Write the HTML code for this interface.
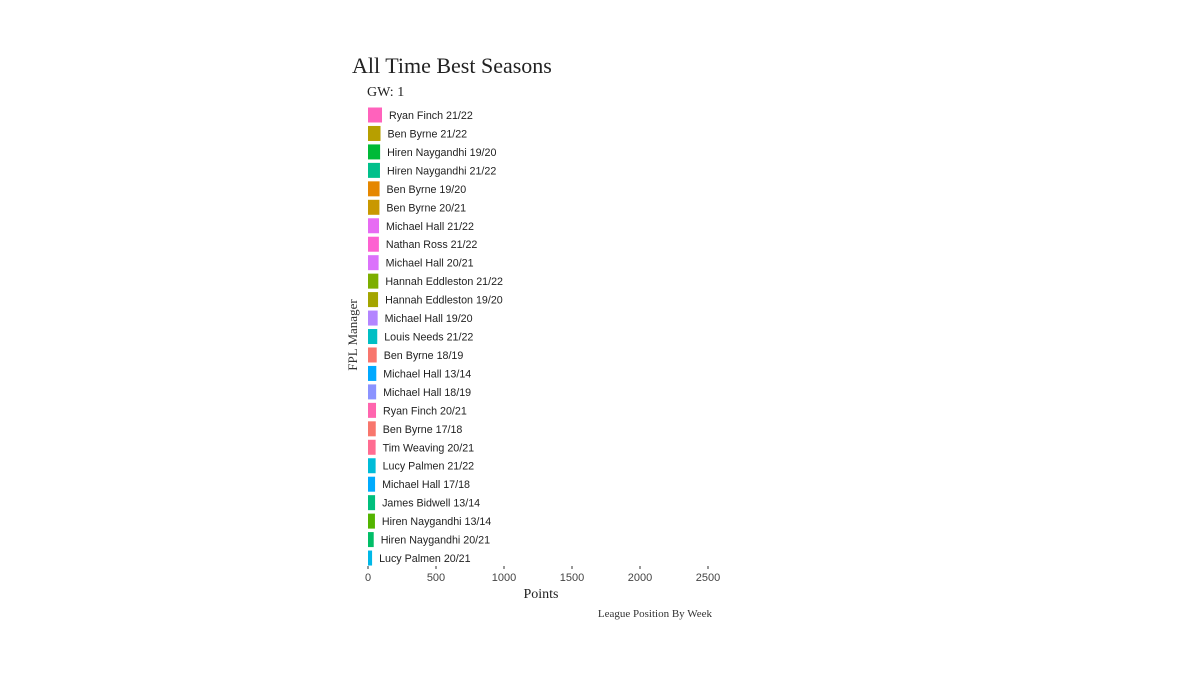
<!DOCTYPE html>
<html><head><meta charset="utf-8"><style>
body{margin:0;background:#fff;}
svg{display:block;}
</style></head><body>
<svg width="1200" height="675" xmlns="http://www.w3.org/2000/svg">
<text x="352" y="73" font-family="Liberation Serif, serif" font-size="22" fill="#222">All Time Best Seasons</text>
<text x="367" y="96" font-family="Liberation Serif, serif" font-size="14" fill="#222">GW: 1</text>
<text transform="translate(357,335) rotate(-90)" text-anchor="middle" font-family="Liberation Serif, serif" font-size="13" fill="#333">FPL Manager</text>
<text x="541" y="598" text-anchor="middle" font-family="Liberation Serif, serif" font-size="14" fill="#222">Points</text>
<text x="712" y="617" text-anchor="end" font-family="Liberation Serif, serif" font-size="11" fill="#333">League Position By Week</text>
<g id="bars"></g>
<g id="axis"></g>
</svg>
<script>
const managers=["Ryan Finch 21/22","Ben Byrne 21/22","Hiren Naygandhi 19/20","Hiren Naygandhi 21/22","Ben Byrne 19/20","Ben Byrne 20/21","Michael Hall 21/22","Nathan Ross 21/22","Michael Hall 20/21","Hannah Eddleston 21/22","Hannah Eddleston 19/20","Michael Hall 19/20","Louis Needs 21/22","Ben Byrne 18/19","Michael Hall 13/14","Michael Hall 18/19","Ryan Finch 20/21","Ben Byrne 17/18","Tim Weaving 20/21","Lucy Palmen 21/22","Michael Hall 17/18","James Bidwell 13/14","Hiren Naygandhi 13/14","Hiren Naygandhi 20/21","Lucy Palmen 20/21"];
const points=[103,92,89,88,85,84,81,80,78,76,74,71,68,64,61,60,59,57,56,56,52,52,51,42,30];
const colors=["#FF62BC","#B79F00","#00BA38","#00C08B","#E58700","#C99800","#E76BF3","#FD61D1","#DB72FB","#7CAE00","#A3A500","#B385FF","#00BFC4","#F8766D","#00A9FF","#8B93FF","#FF65AE","#F8766D","#FF6C91","#00BCD8","#00ABFD","#00BF7D","#53B400","#00BE67","#00B8E7"];
const xTicks=[0,500,1000,1500,2000,2500];
const NS="http://www.w3.org/2000/svg";
const x0=368, pxPer=(708-368)/2500;
const xs=v=>x0+v*pxPer;
const yTop=107.5, step=18.46, bh=15;
const bars=document.getElementById('bars');
managers.forEach((m,i)=>{
  const y=yTop+i*step;
  const r=document.createElementNS(NS,'rect');
  r.setAttribute('x',x0);r.setAttribute('y',y);
  r.setAttribute('width',Math.max(0,xs(points[i])-x0));r.setAttribute('height',bh);
  r.setAttribute('fill',colors[i]);
  
  
  bars.appendChild(r);
  const t=document.createElementNS(NS,'text');
  t.setAttribute('x',xs(points[i])+7);t.setAttribute('y',y+bh/2+4);
  t.setAttribute('font-family','Liberation Sans, sans-serif');t.setAttribute('font-size','10.7');
  t.setAttribute('fill','#222');t.textContent=m;
  
  
  bars.appendChild(t);
});
const ax=document.getElementById('axis');
xTicks.forEach(v=>{
  const l=document.createElementNS(NS,'line');
  l.setAttribute('x1',xs(v));l.setAttribute('x2',xs(v));l.setAttribute('y1',566);l.setAttribute('y2',569);
  l.setAttribute('stroke','#333');
  
  
  ax.appendChild(l);
  const t=document.createElementNS(NS,'text');
  t.setAttribute('x',xs(v));t.setAttribute('y',581);t.setAttribute('text-anchor','middle');
  t.setAttribute('font-family','Liberation Sans, sans-serif');t.setAttribute('font-size','11');t.setAttribute('fill','#444');
  t.textContent=v;
  
  
  ax.appendChild(t);
});
</script>
</body></html>
